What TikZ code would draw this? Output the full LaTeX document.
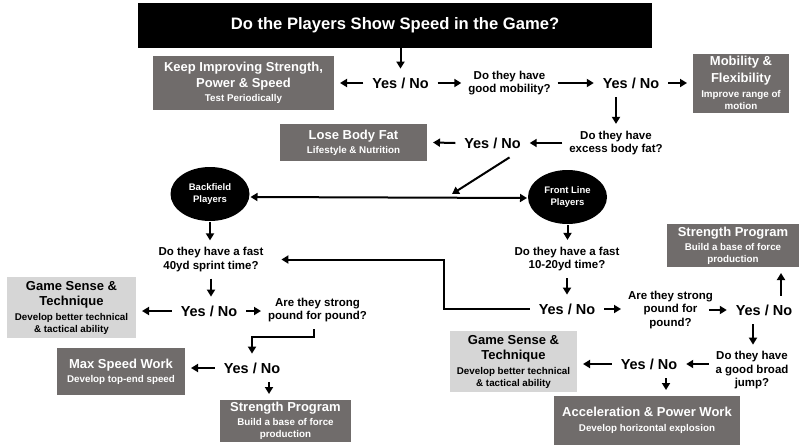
\documentclass[tikz,border=0pt]{standalone}
\usepackage{fontspec}
\setmainfont{Liberation Sans}
\usetikzlibrary{arrows.meta,shapes.geometric}
\definecolor{boxgray}{RGB}{112,108,107}
\definecolor{palegray}{RGB}{214,214,214}
\newcommand{\headsize}{\fontsize{13}{15}\selectfont}
\newcommand{\notesize}{\fontsize{9.8}{12}\selectfont}

\begin{document}
\begin{tikzpicture}[x=1pt, y=-1pt,
    arr/.style={-{Triangle[length=7pt,width=8pt]}, line width=2pt},
    dbl/.style={{Triangle[length=7pt,width=8pt]}-{Triangle[length=7pt,width=8pt]}, line width=2pt},
    darkbox/.style={fill=boxgray, text=white, align=center, inner sep=0pt, outer sep=6pt, font=\bfseries},
    palebox/.style={fill=palegray, text=black, align=center, inner sep=0pt, outer sep=6pt, font=\bfseries},
    yn/.style={font=\fontsize{14.5}{17}\selectfont\bfseries, inner sep=1pt, outer sep=8pt},
    ask/.style={font=\fontsize{11.5}{13.5}\selectfont\bfseries, align=center, inner sep=1pt, outer sep=6pt},
    oval/.style={ellipse, fill=black, text=white, minimum width=79pt, minimum height=54pt, inner sep=0pt, outer sep=1pt, align=center, font=\fontsize{9.5}{12}\selectfont\bfseries}
]
    \useasboundingbox (0,0) rectangle (800,447);

    \node[fill=black, text=white, minimum width=514pt, minimum height=45pt, inner sep=0pt, font=\fontsize{16.6}{20}\selectfont\bfseries] (title) at (395,25.5) {Do the Players Show Speed in the Game?};

    % top row
    \node[yn] (yn1) at (400.5,83) {Yes / No};
    \node[darkbox, minimum width=181pt, minimum height=54pt] (keep) at (243.5,83) {\headsize Keep Improving Strength,\\[3pt] \headsize Power \& Speed\\[2pt] \notesize Test Periodically};
    \node[ask] (q1) at (509.5,83) {Do they have\\ good mobility?};
    \node[yn] (yn2) at (631,83) {Yes / No};
    \node[darkbox, minimum width=96pt, minimum height=59pt] (mob) at (741,83) {\headsize Mobility \&\\[4pt] \headsize Flexibility\\[3pt] \notesize Improve range of\\ \notesize motion};

    % body fat row
    \node[ask] (q2) at (616,143) {Do they have\\ excess body fat?};
    \node[yn] (yn3) at (492.5,143) {Yes / No};
    \node[darkbox, minimum width=147pt, minimum height=37pt] (lose) at (353.5,142.5) {\headsize Lose Body Fat\\[2pt] \notesize Lifestyle \& Nutrition};
    \coordinate (meet) at (452,194);

    % player groups
    \node[oval] (back) at (210,194) {Backfield\\ Players};
    \node[oval] (front) at (567.5,197) {Front Line\\ Players};

    % backfield branch
    \node[ask] (q3) at (211,259.5) {Do they have a fast\\ 40yd sprint time?};
    \node[yn] (yn4) at (209,311) {Yes / No};
    \node[palebox, minimum width=129pt, minimum height=61pt] (gameL) at (71.5,307.5) {\headsize Game Sense \&\\[3pt] \headsize Technique\\[3pt] \notesize Develop better technical\\ \notesize \& tactical ability};
    \node[ask] (q4) at (317.5,310) {Are they strong\\ pound for pound?};
    \node[yn] (yn5) at (252,368) {Yes / No};
    \node[darkbox, minimum width=128pt, minimum height=47pt] (maxsp) at (121,371.5) {\headsize Max Speed Work\\[2pt] \notesize Develop top-end speed};
    \node[darkbox, minimum width=131pt, minimum height=42pt] (strL) at (285.5,421) {\headsize Strength Program\\[2pt] \notesize Build a base of force\\ \notesize production};

    % front line branch
    \node[ask] (q5) at (567,259) {Do they have a fast\\ 10-20yd time?};
    \node[yn] (yn6) at (567,309) {Yes / No};
    \node[ask] (q6) at (670.5,310) {Are they strong\\ pound for\\ pound?};
    \node[yn] (yn7) at (764,310) {Yes / No};
    \node[darkbox, minimum width=132pt, minimum height=43pt] (strR) at (733,245.5) {\headsize Strength Program\\[2pt] \notesize Build a base of force\\ \notesize production};
    \node[ask] (q7) at (752,370.5) {Do they have\\ a good broad\\ jump?};
    \node[yn] (yn8) at (649,364) {Yes / No};
    \node[palebox, minimum width=127pt, minimum height=61pt] (gameR) at (513.5,361.5) {\headsize Game Sense \&\\[3pt] \headsize Technique\\[3pt] \notesize Develop better technical\\ \notesize \& tactical ability};
    \node[darkbox, minimum width=186pt, minimum height=49pt] (accel) at (647,420.5) {\headsize Acceleration \& Power Work\\[3pt] \notesize Develop horizontal explosion};

    % connectors
    \draw[arr] (yn1.north |- title.south) -- (yn1.north);
    \draw[arr] (yn1.west) -- (keep.east);
    \draw[arr] (yn1.east) -- (q1.west);
    \draw[arr] (q1.east) -- (yn2.west);
    \draw[arr] (yn2.east) -- (mob.west);
    \draw[arr] (q2.north |- yn2.south) -- (q2.north);
    \draw[arr] (q2.west) -- (yn3.east);
    \draw[arr] (yn3.west) -- (lose.east);
    \draw[arr] ([xshift=17pt]yn3.south) -- (meet);
    \draw[dbl] ([yshift=-3pt]back.east) -- ([yshift=-1pt]front.west);
    \draw[arr] (back.south) -- (back.south |- q3.north);
    \draw[arr] (q3.south) -- (q3.south |- yn4.north);
    \draw[arr] (yn4.west) -- (yn4.west -| gameL.east);
    \draw[arr] (yn4.east) -- (yn4.east -| q4.west);
    \draw[arr] ([xshift=-4pt]q4.south) -- ++(0,8) -| (yn5.north);
    \draw[arr] (yn5.west) -- (yn5.west -| maxsp.east);
    \draw[arr] ([xshift=17pt]yn5.south) -- ([xshift=17pt]yn5.south |- strL.north);
    \draw[arr] (front.south) -- (front.south |- q5.north);
    \draw[arr] (q5.south) -- (q5.south |- yn6.north);
    \draw[arr, shorten >=11pt] (yn6.west) -- ++(-86,0) |- (q3.east);
    \draw[arr] (yn6.east) -- (yn6.east -| q6.west);
    \draw[arr] ([xshift=-18pt]yn7.west) -- (yn7.west);
    \draw[arr] ([xshift=17pt]yn7.north) -- ([xshift=17pt]yn7.north |- strR.south);
    \draw[arr] ([xshift=-11pt]yn7.south) -- ([xshift=-11pt]yn7.south |- q7.north);
    \draw[arr] (yn8.east -| q7.west) -- (yn8.east);
    \draw[arr] (yn8.west) -- (yn8.west -| gameR.east);
    \draw[arr] ([xshift=17pt]yn8.south) -- ([xshift=17pt]yn8.south |- accel.north);
\end{tikzpicture}
\end{document}
